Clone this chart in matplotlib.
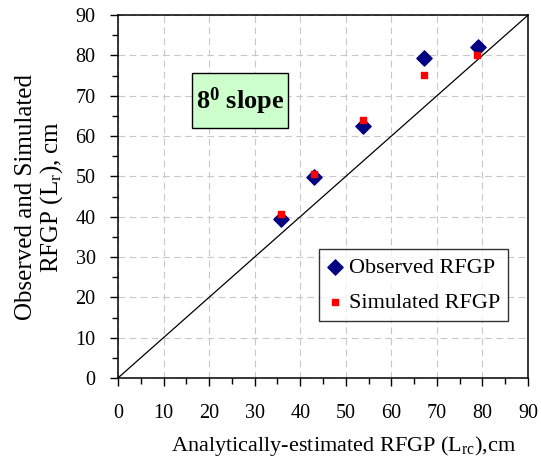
import matplotlib
matplotlib.use("Agg")
import matplotlib.pyplot as plt
from matplotlib.patches import Rectangle
from matplotlib.ticker import MultipleLocator

plt.rcParams['font.family'] = 'Liberation Serif'
plt.rcParams['mathtext.fontset'] = 'custom'
plt.rcParams['mathtext.rm'] = 'Liberation Serif'
plt.rcParams['mathtext.it'] = 'Liberation Serif'
plt.rcParams['mathtext.bf'] = 'Liberation Serif:bold'

# analytically-estimated RFGP (x) and observed / simulated RFGP (y), cm
analytic_obs = [35.8, 43.1, 53.8, 67.2, 79.0]
observed = [39.4, 49.9, 62.5, 79.4, 82.2]
analytic_sim = [35.7, 43.0, 53.7, 67.2, 78.8]
simulated = [40.7, 50.5, 64.1, 75.1, 80.2]
line_1to1 = [0, 90]


def main():
    fig = plt.figure(figsize=(5.41, 4.59), dpi=100)
    ax = fig.add_axes([0.218, 0.1765, 0.758, 0.7905])

    ax.plot(line_1to1, line_1to1, color='black', linewidth=0.9, zorder=2)
    ax.scatter(analytic_obs, observed, marker='D', s=60, color='#000080',
               label='Observed RFGP', zorder=3)
    ax.scatter(analytic_sim, simulated, marker='s', s=24, color='#ff0000',
               label='Simulated RFGP', zorder=4)

    ax.set_xlim(0, 90)
    ax.set_ylim(0, 90)
    ax.xaxis.set_major_locator(MultipleLocator(10))
    ax.yaxis.set_major_locator(MultipleLocator(10))
    ax.xaxis.set_minor_locator(MultipleLocator(5))
    ax.yaxis.set_minor_locator(MultipleLocator(5))
    ax.tick_params(which='major', length=6, width=1, labelsize=14.5, direction='out')
    ax.tick_params(which='minor', length=4, width=1, direction='out')
    ax.tick_params(axis='x', which='major', pad=13)
    ax.tick_params(axis='y', which='major', pad=10)
    for s in ax.spines.values():
        s.set_linewidth(1.1)

    ax.grid(True, which='major', linestyle=(0, (6, 4)), color='#c8c8c8', linewidth=0.8)
    ax.set_axisbelow(True)

    ax.set_xlabel('Analytically-estimated RFGP (L$_{rc}$),cm', fontsize=16)
    ax.xaxis.set_label_coords(0.549, -0.155)
    ax.set_ylabel('Observed and Simulated\nRFGP (L$_r$), cm', fontsize=18,
                  linespacing=1.05)
    ax.yaxis.set_label_coords(-0.13, 0.5)

    # label box
    ax.add_patch(Rectangle((0.1805, 0.6887), 0.2341, 0.1513, transform=ax.transAxes,
                           facecolor='#ccffcc', edgecolor='black', linewidth=1,
                           zorder=5))
    ax.text(0.2976, 0.764, r'8$^{\mathbf{0}}$ slope', transform=ax.transAxes,
            fontsize=19, fontweight='bold', ha='center', va='center', zorder=6)

    leg = ax.legend(loc='lower right', bbox_to_anchor=(0.951, 0.157), fontsize=16,
                    frameon=True, fancybox=False, edgecolor='black',
                    handletextpad=0.26, borderpad=0.35, labelspacing=0.68,
                    handlelength=0.75, borderaxespad=0, scatterpoints=1)
    leg.get_frame().set_linewidth(1)

    fig.savefig('out.png', dpi=100)


if __name__ == "__main__":
    main()
